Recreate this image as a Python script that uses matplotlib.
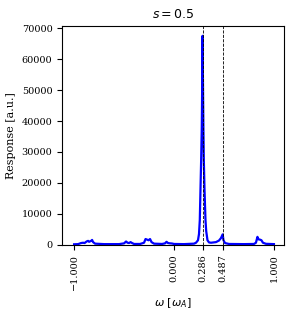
import matplotlib
matplotlib.use("Agg")
import matplotlib.pyplot as plt

omega = [-1.00, -0.96, -0.93, -0.91, -0.895, -0.875, -0.86, -0.85, -0.83, -0.82, -0.81, -0.79,
         -0.70, -0.55, -0.50, -0.48, -0.465, -0.45, -0.435, -0.42, -0.40, -0.34, -0.30, -0.285,
         -0.27, -0.255, -0.24, -0.225, -0.20, -0.12, -0.09, -0.075, -0.06, -0.04, -0.02, 0.00,
         0.10, 0.20, 0.22, 0.24, 0.25, 0.258, 0.265, 0.272, 0.278, 0.283, 0.286, 0.289, 0.294,
         0.298, 0.305, 0.315, 0.322, 0.335, 0.35, 0.37, 0.42, 0.45, 0.47, 0.487, 0.495, 0.51,
         0.55, 0.70, 0.80, 0.82, 0.835, 0.845, 0.86, 0.875, 0.89, 0.92, 1.00]
response = [200, 250, 600, 700, 600, 1100, 1300, 1000, 1300, 1600, 900, 400,
            250, 250, 500, 1100, 700, 600, 900, 600, 300, 300, 700, 1900,
            1700, 1500, 1900, 900, 400, 300, 500, 1000, 600, 500, 450, 300,
            250, 400, 700, 1500, 3500, 8000, 18000, 28000, 38000, 55000, 67500, 55000, 38000,
            28000, 18000, 8000, 4500, 1500, 800, 700, 900, 1400, 2200, 3400, 1500, 600,
            300, 250, 300, 700, 2600, 1800, 1700, 1500, 700, 350, 250]
marked_freqs = [0.286, 0.487]
xtick_vals = [-1.0, 0.0, 0.286, 0.487, 1.0]
title = "$s = 0.5$"

plt.rcParams['font.family'] = 'DejaVu Serif'
plt.rcParams['mathtext.fontset'] = 'dejavusans'

fig = plt.figure(figsize=(2.93, 3.16), dpi=100)
ax = fig.add_axes([0.212, 0.225, 0.757, 0.693])
ax.plot(omega, response, color='blue', lw=1.6)
for f in marked_freqs:
    ax.axvline(f, color='black', ls='--', lw=0.6)
ax.set_xlim(-1.12, 1.10)
ax.set_ylim(0, 70700)
ax.set_xticks(xtick_vals)
ax.set_xticklabels([f"{v:.3f}".replace('-', '\u2212') for v in xtick_vals], rotation=90)
ax.set_yticks([0, 10000, 20000, 30000, 40000, 50000, 60000, 70000])
ax.tick_params(labelsize=7)
ax.set_ylabel("Response [a.u.]", fontsize=8)
ax.set_xlabel(r"$\omega\ [\omega_A]$", fontsize=8)
ax.set_title(title, fontsize=9)
fig.savefig("out.png", dpi=100)
